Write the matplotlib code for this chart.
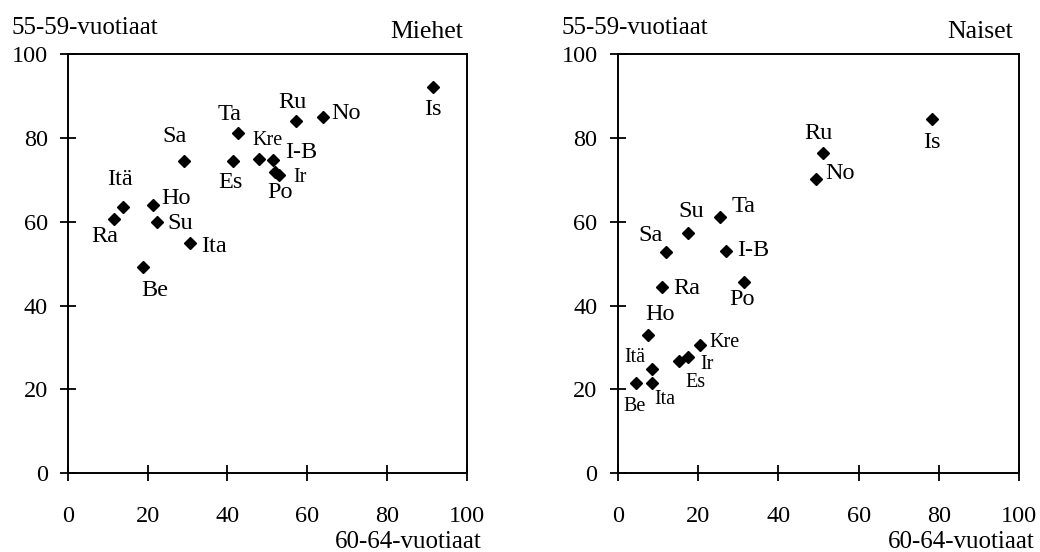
import matplotlib
import matplotlib.pyplot as plt

plt.switch_backend('agg')
plt.rcParams['font.family'] = ['Liberation Serif', 'DejaVu Serif']

# Miehet (men): x = 60-64-vuotiaat, y = 55-59-vuotiaat
men_names = ['Ra', 'Itä', 'Ho', 'Su', 'Ita', 'Be', 'Sa', 'Ta', 'Es', 'Kre',
             'I-B', 'Po', 'Ir', 'Ru', 'No', 'Is']
men_x = [11.6, 13.7, 21.2, 22.2, 30.6, 18.7, 29.2, 42.7, 41.3, 47.8,
         51.3, 51.9, 53.0, 57.2, 63.9, 91.5]
men_y = [60.6, 63.6, 64.0, 60.0, 54.9, 49.1, 74.6, 81.3, 74.6, 75.0,
         74.8, 71.9, 71.1, 84.1, 85.0, 92.3]

# Naiset (women)
women_names = ['Is', 'Ru', 'No', 'Ta', 'Su', 'Sa', 'I-B', 'Ra', 'Po', 'Ho',
               'Itä', 'Be', 'Ita', 'Es', 'Ir', 'Kre']
women_x = [78.2, 51.2, 49.4, 25.5, 17.4, 12.0, 26.9, 11.0, 31.5, 7.5,
           8.6, 4.6, 8.5, 15.3, 17.4, 20.5]
women_y = [84.6, 76.5, 70.3, 61.1, 57.3, 52.9, 53.0, 44.5, 45.5, 33.0,
           24.8, 21.4, 21.4, 26.8, 27.6, 30.6]

ticks = [0, 20, 40, 60, 80, 100]

# label placement: (dx, dy) in pixels, horizontal alignment, small font?
men_lbl = {'Ra': (-9, -17, 'center', False), 'Itä': (-3, 27, 'center', False),
           'Ho': (9, 7, 'left', False), 'Su': (11, -2, 'left', False),
           'Ita': (11, -3, 'left', False), 'Be': (12, -23, 'center', False),
           'Sa': (-10, 24, 'center', False), 'Ta': (-9, 18, 'center', False),
           'Es': (-2, -22, 'center', False), 'Kre': (9, 18, 'center', True),
           'I-B': (13, 7, 'left', False), 'Po': (5, -21, 'center', False),
           'Ir': (14, -2, 'left', True), 'Ru': (-4, 18, 'center', False),
           'No': (9, 4, 'left', False), 'Is': (0, -23, 'center', False)}
women_lbl = {'Is': (0, -24, 'center', False), 'Ru': (-5, 19, 'center', False),
             'No': (9, 5, 'left', False), 'Ta': (23, 11, 'center', False),
             'Su': (4, 22, 'center', False), 'Sa': (-15, 16, 'center', False),
             'I-B': (11, 1, 'left', False), 'Ra': (11, -2, 'left', False),
             'Po': (-2, -17, 'center', False), 'Ho': (12, 20, 'center', False),
             'Itä': (-17, 12, 'center', True), 'Be': (-2, -23, 'center', True),
             'Ita': (13, -16, 'center', True), 'Es': (16, -22, 'center', True),
             'Ir': (13, -7, 'left', True), 'Kre': (9, 2, 'left', True)}

W, H = 1040, 552
fig = plt.figure(figsize=(10.4, 5.52), dpi=100)


def panel(left_px, right_px, names, xs, ys, lbl, title, title_right, ytitle_left):
    ax = fig.add_axes([left_px / W, 79 / H, (right_px - left_px) / W, (473 - 54.3) / H])
    ax.plot(xs, ys, linestyle='none', marker='D', ms=6.3, color='black')
    for n, x, y in zip(names, xs, ys):
        dx, dy, ha, small = lbl[n]
        ax.annotate(n, (x, y), xytext=(dx, dy), textcoords='offset pixels',
                    ha=ha, va='center', fontsize=14.5 if small else 17.5)
    ax.set_xlim(0, 100)
    ax.set_ylim(0, 100)
    ax.set_xticks(ticks)
    ax.set_yticks(ticks)
    ax.tick_params(direction='inout', length=11, width=1.3, labelsize=17.5)
    ax.tick_params(axis='x', pad=18)
    ax.tick_params(axis='y', pad=9)
    for s in ax.spines.values():
        s.set_linewidth(1.4)
    fig.text(ytitle_left / W, 1 - 34 / H, '55-59-vuotiaat', fontsize=18, va='baseline')
    fig.text(title_right / W, 1 - 38.5 / H, title, fontsize=18.5, ha='right', va='baseline')
    fig.text((right_px + 15) / W, 1 - 548 / H, '60-64-vuotiaat', fontsize=18,
             ha='right', va='baseline')
    return ax


panel(68, 466.7, men_names, men_x, men_y, men_lbl, 'Miehet', 463, 11.7)
panel(617.7, 1019.3, women_names, women_x, women_y, women_lbl, 'Naiset', 1013.3, 561.7)

plt.savefig('out.png', dpi=100)
